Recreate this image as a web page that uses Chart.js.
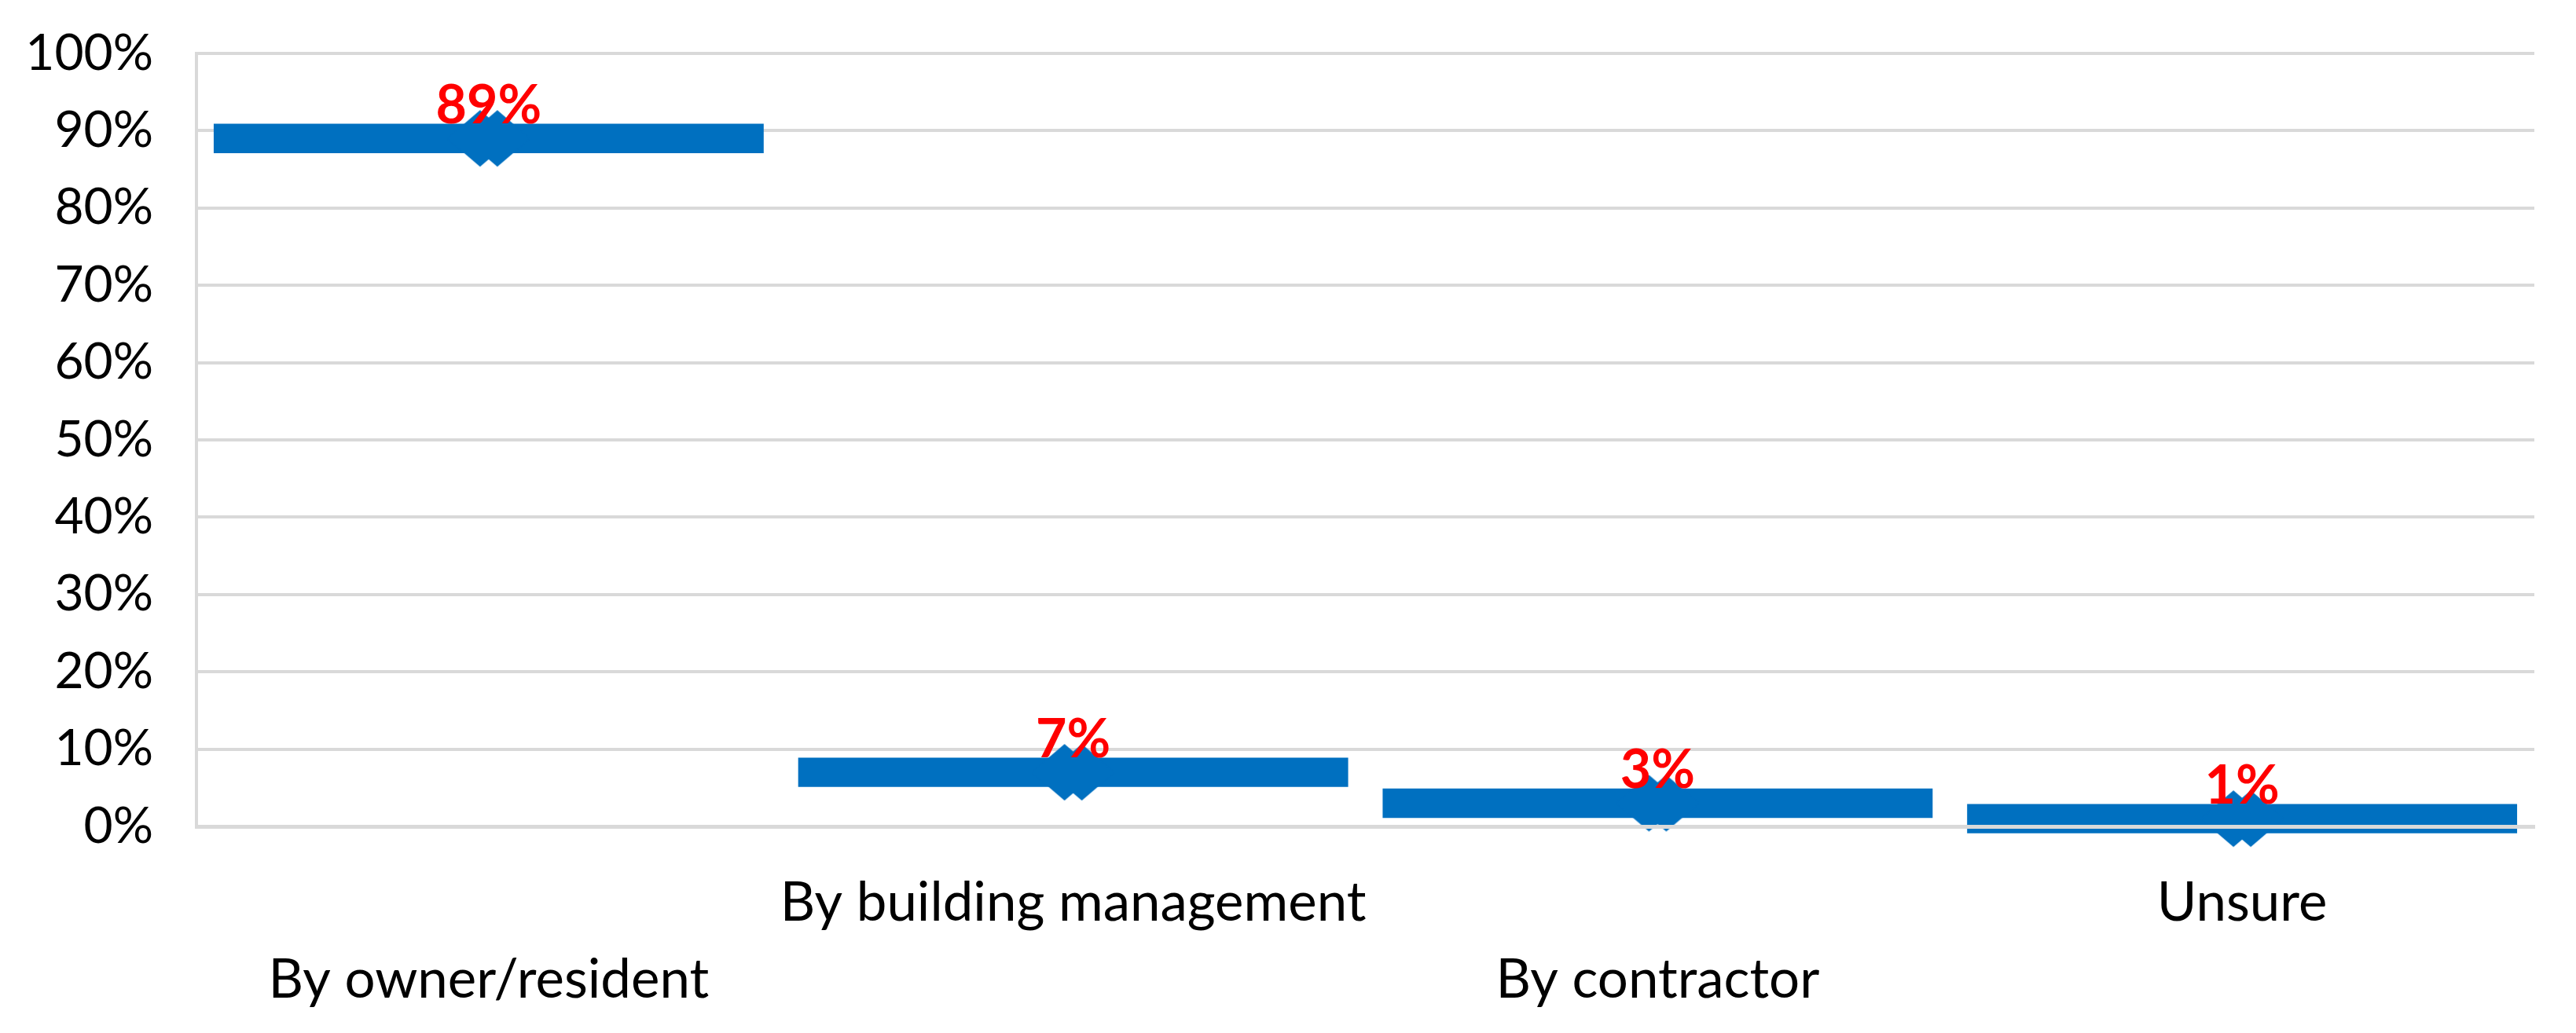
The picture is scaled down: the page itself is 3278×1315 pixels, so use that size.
<!DOCTYPE html>
<html>
<head>
<meta charset="utf-8">
<script src="https://cdn.jsdelivr.net/npm/chart.js@4.4.1/dist/chart.umd.min.js"></script>
<style>
  html, body { margin: 0; padding: 0; background: #ffffff; }
  #wrap { width: 3278px; height: 1315px; }
</style>
</head>
<body>
<div id="wrap"><canvas id="c" width="3278" height="1315"></canvas></div>
<script>
// ---- data ----
const categories = ['By owner/resident', 'By building management', 'By contractor', 'Unsure'];
const shares = [89, 7, 3, 1];
const yTickValues = [0, 10, 20, 30, 40, 50, 60, 70, 80, 90, 100];

// ---- styles ----
const BLUE = '#0070C0';
const GRID = '#d9d9d9';
const BAR_HALF = 1.9; // half-thickness of the flat bar, in axis units

// marker: double diamond (as drawn in the original)
function makeMarker() {
  const w = 106, h = 74;
  const c = document.createElement('canvas');
  c.width = w; c.height = h;
  const g = c.getContext('2d');
  g.fillStyle = BLUE;
  [w / 2 - 11, w / 2 + 11].forEach(cx => {
    g.beginPath();
    g.moveTo(cx, 1);
    g.lineTo(cx + 42, h / 2);
    g.lineTo(cx, h - 1);
    g.lineTo(cx - 42, h / 2);
    g.closePath();
    g.fill();
  });
  return c;
}
const marker = makeMarker();

const labelPlugin = {
  id: 'valueLabels',
  afterDatasetsDraw(chart) {
    const meta = chart.getDatasetMeta(1);
    const ctx = chart.ctx;
    ctx.save();
    ctx.fillStyle = '#FF0000';
    ctx.font = 'bold 68px Lato';
    ctx.textAlign = 'center';
    ctx.textBaseline = 'alphabetic';
    meta.data.forEach((pt, i) => {
      ctx.fillText(shares[i] + '%', pt.x, pt.y - 19);
    });
    ctx.restore();
  }
};

new Chart(document.getElementById('c'), {
  type: 'bar',
  data: {
    labels: categories,
    datasets: [
      {
        type: 'bar',
        data: shares.map(v => [v - BAR_HALF, v + BAR_HALF]),
        backgroundColor: BLUE,
        borderWidth: 0,
        barPercentage: 1,
        categoryPercentage: 0.941,
        clip: false,
        order: 2
      },
      {
        type: 'line',
        data: shares,
        showLine: false,
        pointStyle: marker,
        pointRadius: 40,
        clip: false,
        order: 1
      }
    ]
  },
  options: {
    responsive: false,
    animation: false,
    events: [],
    layout: { autoPadding: false, padding: { top: 68, right: 53, bottom: 0, left: 0 } },
    plugins: { legend: { display: false }, tooltip: { enabled: false } },
    scales: {
      x: {
        grid: { display: false, drawTicks: false },
        border: { display: true, color: GRID, width: 5, z: 1 },
        ticks: {
          autoSkip: false,
          maxRotation: 0,
          minRotation: 0,
          padding: 49,
          color: '#000000',
          font: { family: 'Lato', size: 69, lineHeight: 1.42 },
          callback: function (value, index) {
            const lab = categories[index];
            return index % 2 === 0 ? ['', lab] : [lab, ''];
          }
        },
        afterFit: s => { s.height = 263; }
      },
      y: {
        min: 0,
        max: 100,
        afterBuildTicks: s => { s.ticks = yTickValues.map(v => ({ value: v })); },
        grid: { color: GRID, lineWidth: 4, drawTicks: true, tickLength: 55, tickColor: 'rgba(0,0,0,0)' },
        border: { display: true, color: GRID, width: 4 },
        ticks: {
          padding: 0,
          color: '#000000',
          font: { family: 'Lato', size: 64 },
          callback: v => v + '%'
        },
        afterFit: s => { s.width = 250; }
      }
    }
  },
  plugins: [labelPlugin]
});
</script>
</body>
</html>
